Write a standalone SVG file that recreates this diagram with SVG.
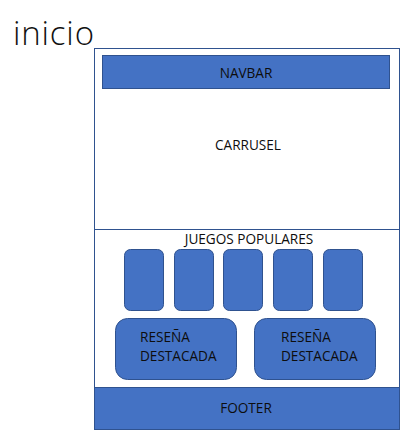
<svg xmlns="http://www.w3.org/2000/svg" width="413" height="436" viewBox="0 0 413 436">
<style>
.b{fill:#4472C4;stroke:#2F528F;stroke-width:1}
.t{font-family:"Open Sans","Liberation Sans",sans-serif;font-size:13.6px;fill:#0d0d0d}
.c{text-anchor:middle}
</style>
<rect width="413" height="436" fill="#fff"/>
<text x="13" y="45" textLength="81" style="font-family:'Open Sans','Liberation Sans',sans-serif;font-size:33px;font-weight:300;fill:#111">inicio</text>
<g id="frame">
<rect x="94.5" y="48.5" width="305" height="381" fill="#fff" stroke="#2F528F" stroke-width="1"/>
<line x1="94.5" y1="229.5" x2="399.5" y2="229.5" stroke="#2F528F" stroke-width="1"/>
</g>
<g id="navbar"><rect class="b" x="102.5" y="55.5" width="287" height="33"/><text class="t c" x="246" y="77.5">NAVBAR</text></g>
<g id="carrusel"><text class="t c" x="248" y="150">CARRUSEL</text></g>
<g id="juegos"><text class="t c" x="249" y="244">JUEGOS POPULARES</text></g>
<g id="card1"><rect class="b" x="124.5" y="249.5" width="39" height="61" rx="6"/></g>
<g id="card2"><rect class="b" x="174.5" y="249.5" width="39" height="61" rx="6"/></g>
<g id="card3"><rect class="b" x="223.5" y="249.5" width="39" height="61" rx="6"/></g>
<g id="card4"><rect class="b" x="273.5" y="249.5" width="39" height="61" rx="6"/></g>
<g id="card5"><rect class="b" x="323.5" y="249.5" width="39" height="61" rx="6"/></g>
<g id="resena1"><rect class="b" x="115.5" y="318.5" width="121" height="61" rx="12"/><text class="t" x="140" y="342">RESEÑA</text><text class="t" x="140" y="361">DESTACADA</text></g>
<g id="resena2"><rect class="b" x="254.5" y="318.5" width="121" height="61" rx="12"/><text class="t" x="281" y="342">RESEÑA</text><text class="t" x="281" y="361">DESTACADA</text></g>
<g id="footer"><rect class="b" x="94.5" y="387.5" width="305" height="42"/><text class="t c" x="246" y="413">FOOTER</text></g>
<g id="connectors"/>
</svg>
